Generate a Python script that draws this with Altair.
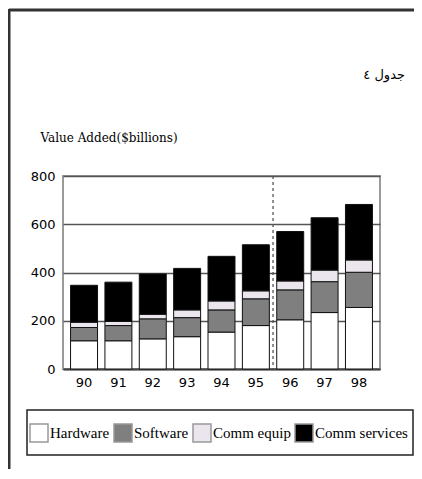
import altair as alt
import pandas as pd

years = ["90", "91", "92", "93", "94", "95", "96", "97", "98"]
categories = ["Hardware", "Software", "Comm equip", "Comm services"]
hardware = [117, 117, 125, 134, 153, 180, 204, 234, 255]
software = [55, 63, 83, 79, 92, 111, 124, 128, 146]
comm_equip = [22, 17, 19, 32, 37, 33, 37, 48, 51]
comm_services = [153, 163, 167, 172, 185, 191, 205, 217, 230]
colors = ["#ffffff", "#7f7f7f", "#ebe6ee", "#000000"]

y_ticks = [0, 200, 400, 600, 800]
y_title = "Value Added($billions)"
caption = "جدول ٤"
split_year = "96"

rows = []
for series, name in zip([hardware, software, comm_equip, comm_services], categories):
    for yr, v in zip(years, series):
        rows.append({"year": yr, "series": name, "value": v, "order": categories.index(name)})
df = pd.DataFrame(rows)

W, H = 317, 193

one = pd.DataFrame({"a": [0]})

legend_box = alt.Chart(one).mark_rect(fill="#ffffff", stroke="#222222", strokeWidth=1.5).encode(
    x=alt.value(-36), x2=alt.value(350), y=alt.value(234), y2=alt.value(279))

bars = alt.Chart(df).mark_bar(stroke="#111111", strokeWidth=1).encode(
    x=alt.X("year:N", sort=years,
            scale=alt.Scale(paddingInner=0.215, paddingOuter=0.22),
            axis=alt.Axis(title=None, labelAngle=0, labelFont="DejaVu Sans", labelFontSize=13,
                          labelColor="#000", labelPadding=7, ticks=False,
                          domainColor="#444444", domainWidth=2)),
    y=alt.Y("value:Q", stack="zero",
            scale=alt.Scale(domain=[0, 800], nice=False),
            axis=alt.Axis(values=y_ticks, title=y_title, titleAngle=0, titleAlign="left",
                          titleBaseline="middle", titleX=-23, titleY=-39,
                          titleFont="DejaVu Serif", titleFontWeight="normal", titleFontSize=12,
                          titleColor="#000",
                          labelFont="DejaVu Sans", labelFontSize=13, labelColor="#000",
                          labelPadding=8, ticks=False, domain=False,
                          grid=True, gridColor="#555555", gridWidth=1.5)),
    fill=alt.Fill("series:N", sort=categories,
                  scale=alt.Scale(domain=categories, range=colors),
                  legend=alt.Legend(title=None, orient="none", direction="horizontal",
                                    legendX=-34, legendY=247, padding=0,
                                    symbolType="square", symbolSize=324,
                                    symbolStrokeColor="#999999", symbolStrokeWidth=1.5,
                                    symbolOpacity=1,
                                    labelFont="Liberation Serif", labelFontSize=15,
                                    labelColor="#000", labelOffset=1, columnPadding=1,
                                    labelLimit=200)),
    order=alt.Order("order:Q"),
)

split = alt.Chart(pd.DataFrame({"year": [split_year]})).mark_rule(
    strokeDash=[3, 3], color="#555555", strokeWidth=1.3, xOffset=-3.7
).encode(x=alt.X("year:N", sort=years, bandPosition=0))

cap = alt.Chart(pd.DataFrame({"t": [caption]})).mark_text(
    align="right", baseline="middle", font="DejaVu Sans", fontSize=13, color="#000"
).encode(text="t:N", x=alt.value(342), y=alt.value(-101))

frame_top = alt.Chart(one).mark_rule(color="#333333", strokeWidth=3).encode(
    x=alt.value(-54), x2=alt.value(360), y=alt.value(-166))
frame_left = alt.Chart(one).mark_rule(color="#333333", strokeWidth=3).encode(
    x=alt.value(-54), y=alt.value(-167), y2=alt.value(300))

chart = alt.layer(legend_box, bars, split, cap, frame_top, frame_left).properties(
    width=W, height=H,
    autosize=alt.AutoSizeParams(type="none"),
    padding={"left": 55, "top": 168, "right": 34, "bottom": 100},
).configure_view(stroke="#9a9a9a", strokeWidth=2)

chart.save("out.html", embed_options={"renderer": "svg", "actions": False})
